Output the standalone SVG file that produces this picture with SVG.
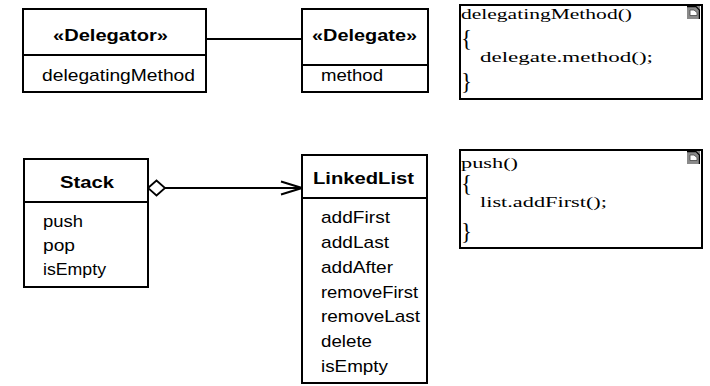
<svg xmlns="http://www.w3.org/2000/svg" width="710" height="386" viewBox="0 0 710 386">
  <style>
    .box { fill: #ffffff; stroke: #000000; stroke-width: 2; }
    .rule { stroke: #000000; stroke-width: 2; }
    .edge { fill: none; stroke: #000000; stroke-width: 2; }
    .title { font-family: "Liberation Sans", Arial, sans-serif; font-size: 17px; font-weight: bold; fill: #000000; }
    .op { font-family: "Liberation Sans", Arial, sans-serif; font-size: 17px; fill: #000000; }
    .code { font-family: "Liberation Serif", "Times New Roman", serif; font-size: 15.5px; fill: #000000; }
    .brace { font-family: "Liberation Serif", "Times New Roman", serif; font-size: 23px; fill: #000000; }
  </style>
  <defs>
    <marker id="open-arrow" viewBox="0 0 24 16" refX="22" refY="8" markerWidth="24" markerHeight="16" markerUnits="userSpaceOnUse" orient="auto">
      <polyline points="1,1.5 22,8 1,14.5" fill="none" stroke="#000000" stroke-width="2"/>
    </marker>
    <marker id="hollow-diamond" viewBox="0 0 20 18" refX="1" refY="9" markerWidth="20" markerHeight="18" markerUnits="userSpaceOnUse" orient="auto">
      <polygon points="1,9 9.5,1.5 18,9 9.5,16.5" fill="#ffffff" stroke="#000000" stroke-width="1.8"/>
    </marker>
    <!-- small folded-page glyph shown in the corner of each note -->
    <g id="note-icon">
      <rect x="0" y="0" width="13" height="13" fill="#8a8a8a"/>
      <polyline points="0,0.6 9,0.6 12.4,4 12.4,13" fill="none" stroke="#000000" stroke-width="1.2"/>
      <polyline points="3,4 3,9.5 10,9.5 10,6.5 7,4 3,4" fill="#ffffff" stroke="#444444" stroke-width="0.8"/>
    </g>
  </defs>

  <g id="connectors">
    <line class="edge" x1="206" y1="39" x2="302" y2="39"/>
    <line class="edge" x1="148" y1="188" x2="302" y2="188" marker-start="url(#hollow-diamond)" marker-end="url(#open-arrow)"/>
  </g>

  <g id="delegator">
    <rect class="box" x="23" y="9" width="183" height="83"/>
    <line class="rule" x1="23" y1="55" x2="206" y2="55"/>
    <text class="title" x="53" y="41" textLength="115" lengthAdjust="spacingAndGlyphs">«Delegator»</text>
    <text class="op" x="42" y="81" textLength="153" lengthAdjust="spacingAndGlyphs">delegatingMethod</text>
  </g>

  <g id="delegate">
    <rect class="box" x="302" y="9" width="126" height="83"/>
    <line class="rule" x1="302" y1="65" x2="428" y2="65"/>
    <text class="title" x="312" y="41" textLength="105" lengthAdjust="spacingAndGlyphs">«Delegate»</text>
    <text class="op" x="321" y="81" textLength="62" lengthAdjust="spacingAndGlyphs">method</text>
  </g>

  <g id="note-delegating-method">
    <rect class="box" x="460" y="5" width="242" height="94"/>
    <use href="#note-icon" x="687" y="6"/>
    <text class="code" x="461" y="19" textLength="171" lengthAdjust="spacingAndGlyphs">delegatingMethod()</text>
    <text class="brace" x="461" y="46">{</text>
    <text class="code" x="480" y="62" textLength="173" lengthAdjust="spacingAndGlyphs">delegate.method();</text>
    <text class="brace" x="461" y="89">}</text>
  </g>

  <g id="stack">
    <rect class="box" x="24" y="159" width="124" height="128"/>
    <line class="rule" x1="24" y1="202" x2="148" y2="202"/>
    <text class="title" x="60" y="188" textLength="54" lengthAdjust="spacingAndGlyphs">Stack</text>
    <text class="op" x="43" y="227" textLength="40" lengthAdjust="spacingAndGlyphs">push</text>
    <text class="op" x="43" y="251" textLength="32" lengthAdjust="spacingAndGlyphs">pop</text>
    <text class="op" x="43" y="275" textLength="63" lengthAdjust="spacingAndGlyphs">isEmpty</text>
  </g>

  <g id="linked-list">
    <rect class="box" x="302" y="155" width="125" height="228"/>
    <line class="rule" x1="302" y1="198" x2="427" y2="198"/>
    <text class="title" x="313" y="184" textLength="101" lengthAdjust="spacingAndGlyphs">LinkedList</text>
    <text class="op" x="321" y="223" textLength="69" lengthAdjust="spacingAndGlyphs">addFirst</text>
    <text class="op" x="321" y="248" textLength="68" lengthAdjust="spacingAndGlyphs">addLast</text>
    <text class="op" x="321" y="273" textLength="72" lengthAdjust="spacingAndGlyphs">addAfter</text>
    <text class="op" x="321" y="298" textLength="97" lengthAdjust="spacingAndGlyphs">removeFirst</text>
    <text class="op" x="321" y="322" textLength="99" lengthAdjust="spacingAndGlyphs">removeLast</text>
    <text class="op" x="321" y="347" textLength="51" lengthAdjust="spacingAndGlyphs">delete</text>
    <text class="op" x="321" y="372" textLength="67" lengthAdjust="spacingAndGlyphs">isEmpty</text>
  </g>

  <g id="note-push">
    <rect class="box" x="460" y="150" width="242" height="98"/>
    <use href="#note-icon" x="687" y="151"/>
    <text class="code" x="461" y="168" textLength="57" lengthAdjust="spacingAndGlyphs">push()</text>
    <text class="brace" x="461" y="191">{</text>
    <text class="code" x="480" y="207" textLength="127" lengthAdjust="spacingAndGlyphs">list.addFirst();</text>
    <text class="brace" x="461" y="239">}</text>
  </g>
</svg>
